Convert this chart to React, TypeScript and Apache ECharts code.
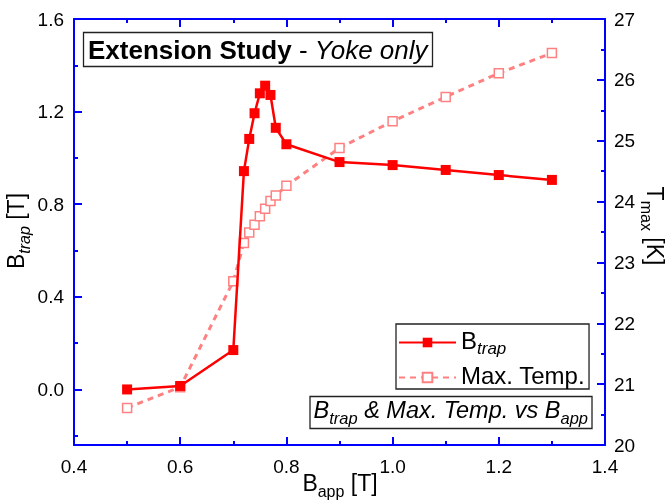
import React, { useEffect, useRef } from "react";
import * as echarts from "echarts";

// B_app [T]
const bApp = [0.5, 0.6, 0.7, 0.72, 0.73, 0.74, 0.75, 0.76, 0.77, 0.78, 0.8, 0.9, 1.0, 1.1, 1.2, 1.3];
// B_trap [T]
const bTrap = [0.0, 0.015, 0.17, 0.943, 1.082, 1.193, 1.279, 1.312, 1.272, 1.13, 1.059, 0.982, 0.969, 0.948, 0.926, 0.905];
// T_max [K]
const maxTemp = [20.61, 20.95, 22.69, 23.32, 23.49, 23.62, 23.76, 23.88, 24.01, 24.1, 24.26, 24.88, 25.32, 25.72, 26.11, 26.44];

const leftTickLabels = [0.0, 0.4, 0.8, 1.2, 1.6];
const leftMinorTicks = [-0.2, 0.2, 0.6, 1.0, 1.4];

export default function App() {
  const ref = useRef<HTMLDivElement>(null);
  useEffect(() => {
    const chart = echarts.init(ref.current!, null, { renderer: "svg" });
    const font = "'Liberation Sans', Arial, sans-serif";
    const blue = "#0000ff";
    const red = "#ff0000";
    const pink = "#ff8080";
    const axisLine = { show: true, onZero: false, lineStyle: { color: blue, width: 2 } };
    const tick = { show: true, inside: true, length: 8, lineStyle: { color: blue, width: 2 } };
    const minor = { show: true, splitNumber: 2, length: 4, lineStyle: { color: blue, width: 2 } };
    const label = { color: "#000", fontSize: 19, fontFamily: font };
    const noSplit = { show: false };

    const mainRich = (fs: number, sub: number, italicMain = false, italicSub = true) => ({
      m: { fontSize: fs, fontFamily: font, fontWeight: "normal", fontStyle: italicMain ? "italic" : "normal", color: "#000", fill: "#000", lineHeight: fs + 5, verticalAlign: "top" },
      s: { fontSize: sub, fontFamily: font, fontWeight: "normal", fontStyle: italicSub ? "italic" : "normal", color: "#000", fill: "#000", lineHeight: sub, verticalAlign: "bottom" },
    });

    chart.setOption({
      animation: false,
      grid: { left: 74, right: 62, top: 19, bottom: 59, containLabel: false, outerBoundsMode: "none" },
      title: [
        {
          text: "{b|Extension Study}{r| - }{i|Yoke only}",
          left: 83,
          top: 30,
          padding: [4, 5, 4, 5],
          borderColor: "#222",
          borderWidth: 1.3,
          backgroundColor: "#fff",
          textStyle: {
            fontWeight: "normal",
            rich: {
              b: { fontSize: 26, fontWeight: "bold", fontFamily: font, color: "#000", lineHeight: 31 },
              r: { fontSize: 26, fontWeight: "normal", fontFamily: font, color: "#000", lineHeight: 31 },
              i: { fontSize: 26, fontWeight: "normal", fontStyle: "italic", fontFamily: font, color: "#000", lineHeight: 31 },
            },
          },
        },
        {
          text: "{m|B}{s|trap}{m| & Max. Temp. vs B}{s|app}",
          right: 75,
          top: 396,
          padding: [2, 4, 2, 4],
          borderColor: "#222",
          borderWidth: 1.3,
          backgroundColor: "#fff",
          textStyle: { fontWeight: "normal", rich: mainRich(23.5, 16.5, true, true) },
        },
      ],
      legend: {
        data: ["Btrap", "Max. Temp."],
        orient: "vertical",
        left: 396,
        top: 324,
        padding: [4, 4, 2, 2],
        itemGap: 6,
        itemWidth: 57,
        itemHeight: 12,
        borderColor: "#222",
        borderWidth: 1.3,
        backgroundColor: "#fff",
        selectedMode: false,
        formatter: (n: string) => (n === "Btrap" ? "{m|B}{s|trap}" : "{m|Max. Temp.}"),
        textStyle: { fontFamily: font, fontSize: 24, color: "#000", rich: mainRich(24, 17) },
      },
      xAxis: [
        {
          type: "value",
          position: "bottom",
          min: 0.4,
          max: 1.4,
          interval: 0.2,
          axisLine,
          axisTick: tick,
          minorTick: minor,
          splitLine: noSplit,
          minorSplitLine: noSplit,
          axisLabel: { ...label, margin: 12, formatter: (v: number) => v.toFixed(1) },
        },
        {
          type: "value",
          position: "top",
          min: 0.4,
          max: 1.4,
          interval: 0.2,
          axisLine,
          axisTick: tick,
          minorTick: minor,
          splitLine: noSplit,
          minorSplitLine: noSplit,
          axisLabel: { show: false },
        },
      ],
      yAxis: [
        {
          type: "value",
          position: "left",
          min: -0.24,
          max: 1.6,
          axisLine,
          axisTick: { ...tick, customValues: leftTickLabels },
          splitLine: noSplit,
          axisLabel: { ...label, margin: 10, customValues: leftTickLabels, formatter: (v: number) => v.toFixed(1) },
        },
        {
          type: "value",
          position: "right",
          min: 20,
          max: 27,
          interval: 1,
          axisLine,
          axisTick: tick,
          minorTick: minor,
          splitLine: noSplit,
          minorSplitLine: noSplit,
          axisLabel: { ...label, margin: 9 },
        },
        {
          type: "value",
          position: "left",
          min: -0.24,
          max: 1.6,
          axisLine: { show: false, onZero: false },
          axisTick: { ...tick, length: 4, customValues: leftMinorTicks },
          splitLine: noSplit,
          axisLabel: { show: false },
        },
      ],
      series: [
        {
          name: "Max. Temp.",
          type: "line",
          xAxisIndex: 0,
          yAxisIndex: 1,
          data: bApp.map((x, i) => [x, maxTemp[i]]),
          symbol: "rect",
          symbolSize: 9,
          color: pink,
          itemStyle: { color: "#fff", borderColor: pink, borderWidth: 1.5 },
          lineStyle: { color: pink, width: 3, type: [6, 5] },
          z: 2,
        },
        {
          name: "Btrap",
          type: "line",
          xAxisIndex: 0,
          yAxisIndex: 0,
          data: bApp.map((x, i) => [x, bTrap[i]]),
          symbol: "rect",
          symbolSize: 10,
          color: red,
          itemStyle: { color: red },
          lineStyle: { color: red, width: 2.5 },
          z: 3,
        },
      ],
      graphic: [
        {
          type: "text",
          x: 340,
          y: 485,
          style: { text: "{m|B}{s|app}{m| [T]}", align: "center", verticalAlign: "middle", rich: mainRich(23, 16, false, false) },
        },
        {
          type: "text",
          x: 18.5,
          y: 231,
          rotation: Math.PI / 2,
          style: { text: "{m|B}{s|trap}{m| [T]}", align: "center", verticalAlign: "middle", rich: mainRich(23, 16, false, true) },
        },
        {
          type: "text",
          x: 652,
          y: 226,
          rotation: -Math.PI / 2,
          style: { text: "{m|T}{s|max}{m| [K]}", align: "center", verticalAlign: "middle", rich: mainRich(23, 16, false, false) },
        },
      ],
    });
    return () => chart.dispose();
  }, []);
  return <div ref={ref} style={{ position: "fixed", left: 0, top: 0, width: 667, height: 504 }} />;
}
